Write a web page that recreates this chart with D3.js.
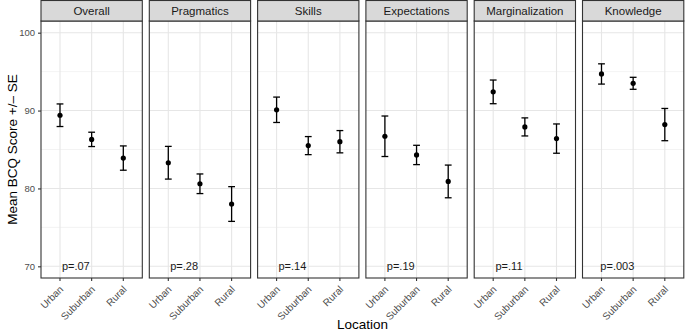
<!DOCTYPE html>
<html>
<head>
<meta charset="utf-8">
<title>BCQ by location</title>
<style type="text/css">
body { margin: 0; background: #fff; }
text { font-family: "Liberation Sans", Arial, sans-serif; }
</style>
<script src="https://cdn.jsdelivr.net/npm/d3@7"></script>
</head>
<body>
<svg width="685" height="333"></svg>
<script type="text/javascript">

// data
var facets = ["Overall", "Pragmatics", "Skills", "Expectations", "Marginalization", "Knowledge"];
var locations = ["Urban", "Suburban", "Rural"];
var means = [[89.4, 86.3, 83.9],
             [83.3, 80.6, 78.0],
             [90.1, 85.5, 86.0],
             [86.7, 84.3, 80.9],
             [92.4, 87.9, 86.4],
             [94.7, 93.5, 88.2]];
var ses = [[1.45, 0.92, 1.56],
           [2.10, 1.26, 2.23],
           [1.63, 1.16, 1.43],
           [2.60, 1.24, 2.10],
           [1.52, 1.16, 1.88],
           [1.30, 0.77, 2.07]];
var pvalues = ["p=.07", "p=.28", "p=.14", "p=.19", "p=.11", "p=.003"];
var yTicks = [70, 80, 90, 100];
var yMinor = [75, 85, 95];

var svg = d3.select("svg"),
    left = 41, stripTop = 0, stripH = 21, panelTop = 21, panelBottom = 278,
    panelW = 101.3, gap = 7;

var y = d3.scaleLinear().domain([68.5, 101.5]).range([panelBottom, panelTop]);
var panelX = d3.scaleBand().domain(facets)
               .range([left, left + facets.length * panelW + (facets.length - 1) * gap])
               .paddingInner(gap / (panelW + gap));
// discrete axis with 0.6 unit padding on each side
var xIdx = d3.scaleLinear().domain([0.4, 3.6]).range([0, panelW]);

facets.forEach(function(f, i) {
  var g = svg.append("g").attr("transform", "translate(" + panelX(f) + ",0)");

  g.selectAll(".minor").data(yMinor).enter().append("line")
    .attr("x1", 0).attr("x2", panelW)
    .attr("y1", function(d) { return y(d); }).attr("y2", function(d) { return y(d); })
    .attr("stroke", "#f0f0f0").attr("stroke-width", 0.8);
  g.selectAll(".major").data(yTicks).enter().append("line")
    .attr("x1", 0).attr("x2", panelW)
    .attr("y1", function(d) { return y(d); }).attr("y2", function(d) { return y(d); })
    .attr("stroke", "#e6e6e6").attr("stroke-width", 1.1);
  g.selectAll(".vgrid").data(locations).enter().append("line")
    .attr("x1", function(d, j) { return xIdx(j + 1); }).attr("x2", function(d, j) { return xIdx(j + 1); })
    .attr("y1", panelTop).attr("y2", panelBottom)
    .attr("stroke", "#e6e6e6").attr("stroke-width", 1.1);

  // error bars
  var eb = g.selectAll(".eb").data(locations).enter().append("g");
  eb.append("line")
    .attr("x1", function(d, j) { return xIdx(j + 1); }).attr("x2", function(d, j) { return xIdx(j + 1); })
    .attr("y1", function(d, j) { return y(means[i][j] - ses[i][j]); })
    .attr("y2", function(d, j) { return y(means[i][j] + ses[i][j]); })
    .attr("stroke", "#000").attr("stroke-width", 1.3);
  [-1, 1].forEach(function(s) {
    eb.append("line")
      .attr("x1", function(d, j) { return xIdx(j + 1) - 3.4; }).attr("x2", function(d, j) { return xIdx(j + 1) + 3.4; })
      .attr("y1", function(d, j) { return y(means[i][j] + s * ses[i][j]); })
      .attr("y2", function(d, j) { return y(means[i][j] + s * ses[i][j]); })
      .attr("stroke", "#000").attr("stroke-width", 1.3);
  });
  eb.append("circle")
    .attr("cx", function(d, j) { return xIdx(j + 1); })
    .attr("cy", function(d, j) { return y(means[i][j]); })
    .attr("r", 2.6).attr("fill", "#000");

  g.append("text")
    .attr("x", xIdx(1.5)).attr("y", y(70)).attr("dy", "0.36em")
    .attr("text-anchor", "middle").attr("font-size", "11px").attr("fill", "#1a1a1a")
    .text(pvalues[i]);

  // panel border
  g.append("rect").attr("x", 0).attr("y", panelTop).attr("width", panelW).attr("height", panelBottom - panelTop)
    .attr("fill", "none").attr("stroke", "#333").attr("stroke-width", 1.1);
  // strip
  g.append("rect").attr("x", 0).attr("y", stripTop + 0.5).attr("width", panelW).attr("height", stripH - 0.5)
    .attr("fill", "#d9d9d9").attr("stroke", "#333").attr("stroke-width", 1.1);
  g.append("text")
    .attr("x", panelW / 2).attr("y", stripTop + stripH / 2).attr("dy", "0.36em")
    .attr("text-anchor", "middle").attr("font-size", "11.5px").attr("fill", "#1a1a1a")
    .text(f);

  // x axis ticks and labels
  var ax = g.append("g").attr("transform", "translate(0," + panelBottom + ")");
  locations.forEach(function(d, j) {
    ax.append("line").attr("x1", xIdx(j + 1)).attr("x2", xIdx(j + 1)).attr("y1", 0).attr("y2", 3)
      .attr("stroke", "#333").attr("stroke-width", 1.1);
    ax.append("text")
      .attr("transform", "translate(" + (xIdx(j + 1) + 4) + ",12) rotate(-45)")
      .attr("text-anchor", "end").attr("font-size", "10px").attr("fill", "#4d4d4d")
      .text(d);
  });
});

// y axis
var yAxis = svg.append("g").attr("transform", "translate(" + left + ",0)")
  .call(d3.axisLeft(y).tickValues(yTicks).tickSize(3).tickPadding(3));
yAxis.select(".domain").remove();
yAxis.selectAll(".tick line").attr("stroke", "#333").attr("stroke-width", 1.1);
yAxis.selectAll(".tick text").attr("font-size", "9.5px").attr("fill", "#4d4d4d")
  .attr("font-family", "Liberation Sans, Arial, sans-serif");

svg.append("text")
  .attr("transform", "translate(12," + ((panelTop + panelBottom) / 2) + ") rotate(-90)")
  .attr("text-anchor", "middle").attr("dy", "0.36em").attr("font-size", "13.5px").attr("fill", "#000")
  .text("Mean BCQ Score +/\u2013 SE");

svg.append("text")
  .attr("x", (left + panelX.range()[1]) / 2).attr("y", 325).attr("dy", "0.3em")
  .attr("text-anchor", "middle").attr("font-size", "13.5px").attr("fill", "#000")
  .text("Location");

</script>
</body>
</html>
